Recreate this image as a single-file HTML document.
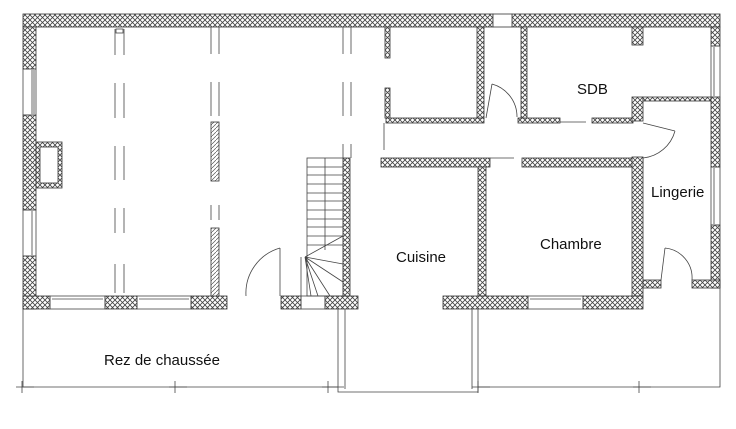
<!DOCTYPE html>
<html><head><meta charset="utf-8"><style>
html,body{margin:0;padding:0;background:#fff;}
svg{display:block}
text{font-family:"Liberation Sans","DejaVu Sans",sans-serif;fill:#111;}
</style></head><body>
<svg width="736" height="429" viewBox="0 0 736 429" xmlns="http://www.w3.org/2000/svg">
<defs>
<pattern id="h" width="5" height="5" patternUnits="userSpaceOnUse">
<rect width="5" height="5" fill="#fff"/>
<path d="M0,0L5,5M5,0L0,5" stroke="#444" stroke-width="0.8"/>
</pattern>
<pattern id="d" width="4" height="4" patternUnits="userSpaceOnUse">
<rect width="4" height="4" fill="#fff"/>
<path d="M0,4L4,0" stroke="#555" stroke-width="0.7"/>
</pattern>
</defs>
<g fill="url(#h)" stroke="#333" stroke-width="0.8">
<rect x="23" y="14" width="470" height="13"/>
<rect x="512" y="14" width="208" height="13"/>
<rect x="493" y="14" width="19" height="13" fill="#fff"/>
<rect x="23" y="27" width="13" height="42"/>
<rect x="23" y="115" width="13" height="95"/>
<rect x="23" y="256" width="13" height="53"/>
<rect x="36" y="142" width="26" height="46"/>
<rect x="40" y="147" width="18" height="36" fill="#fff"/>
<rect x="23" y="296" width="27" height="13"/>
<rect x="105" y="296" width="32" height="13"/>
<rect x="191" y="296" width="36" height="13"/>
<rect x="281" y="296" width="20" height="13"/>
<rect x="325" y="296" width="33" height="13"/>
<rect x="343" y="158" width="7" height="138"/>
<rect x="386" y="118" width="98" height="5"/>
<rect x="518" y="118" width="42" height="5"/>
<rect x="592" y="118" width="41" height="5"/>
<rect x="381" y="158" width="109" height="9"/>
<rect x="522" y="158" width="121" height="9"/>
<rect x="385" y="27" width="5" height="31"/>
<rect x="385" y="88" width="5" height="30"/>
<rect x="477" y="27" width="7" height="91"/>
<rect x="521" y="27" width="6" height="91"/>
<rect x="632" y="27" width="11" height="18"/>
<rect x="632" y="97" width="11" height="24"/>
<rect x="643" y="97" width="68" height="4"/>
<rect x="711" y="27" width="9" height="19"/>
<rect x="711" y="97" width="9" height="70"/>
<rect x="711" y="225" width="9" height="63"/>
<rect x="478" y="167" width="8" height="129"/>
<rect x="632" y="157" width="11" height="139"/>
<rect x="443" y="296" width="85" height="13"/>
<rect x="583" y="296" width="60" height="13"/>
<rect x="643" y="280" width="18" height="8"/>
<rect x="692" y="280" width="28" height="8"/>
</g>
<rect x="211" y="122" width="8" height="59" fill="url(#d)" stroke="#333" stroke-width="0.8"/>
<rect x="211" y="228" width="8" height="68" fill="url(#d)" stroke="#333" stroke-width="0.8"/>
<g stroke="#444" stroke-width="0.8" fill="none">
<rect x="23" y="69" width="13" height="46"/><line x1="32" y1="70" x2="32" y2="114"/><line x1="34" y1="70" x2="34" y2="114"/>
<rect x="23" y="210" width="13" height="46"/><line x1="32" y1="211" x2="32" y2="255"/>
<rect x="50" y="296" width="55" height="13"/><line x1="52" y1="299" x2="103" y2="299"/>
<rect x="137" y="296" width="54" height="13"/><line x1="139" y1="299" x2="189" y2="299"/>
<rect x="301" y="296" width="24" height="13"/>
<rect x="528" y="296" width="55" height="13"/><line x1="530" y1="299" x2="581" y2="299"/>
<rect x="711" y="46" width="9" height="51"/><line x1="714" y1="47" x2="714" y2="96"/>
<rect x="711" y="167" width="9" height="58"/><line x1="714" y1="168" x2="714" y2="224"/>
<path d="M115,29V55M124,29V55M115,83V118M124,83V118M115,146V180M124,146V180M115,208V233M124,208V233M115,264V293M124,264V293"/>
<path d="M211,27V54M219,27V54M211,82V116M219,82V116M211,205V220M219,205V220"/>
<path d="M343,27V54M351,27V54M343,82V116M351,82V116M343,144V158M351,144V158"/>
<rect x="116" y="29" width="7" height="4"/>
<rect x="307" y="158" width="36" height="138"/>
<line x1="325" y1="158" x2="325" y2="250"/>
<path d="M307,167H343M307,175H343M307,184H343M307,193H343M307,201H343M307,210H343M307,219H343M307,227H343M307,236H343M307,245H343"/>
<path d="M305,257L343,236M305,257L343,264M305,257L343,282M305,257L330,296M305,257L318,296M305,257L311,296"/>
<line x1="301" y1="257" x2="301" y2="296"/>
<path d="M280,248V296M280,248A47,47 0 0 0 246,296" />
<path d="M492,84L486,118M492,84A34,34 0 0 1 517,117"/>
<path d="M643,123L675,131M675,131A37,37 0 0 1 643,158"/>
<path d="M665,248L661,280M665,248A30,30 0 0 1 692,280"/>
<path d="M560,122H586M490,158H514M384,123V150"/>
<path d="M23,309V387H338M338,309V392H478V309M345,309V389M472,309V389M478,387H720V288"/>
<path d="M22,381V393M16,387H34M175,381V393M169,387H187M328,381V393M322,387H344M478,381V393M472,387H490M639,381V393M633,387H651"/>
</g>
<g font-size="15">
<text x="577" y="94">SDB</text>
<text x="651" y="197">Lingerie</text>
<text x="540" y="249">Chambre</text>
<text x="396" y="262">Cuisine</text>
<text x="104" y="365">Rez de chaussée</text>
</g>
</svg>
</body></html>
